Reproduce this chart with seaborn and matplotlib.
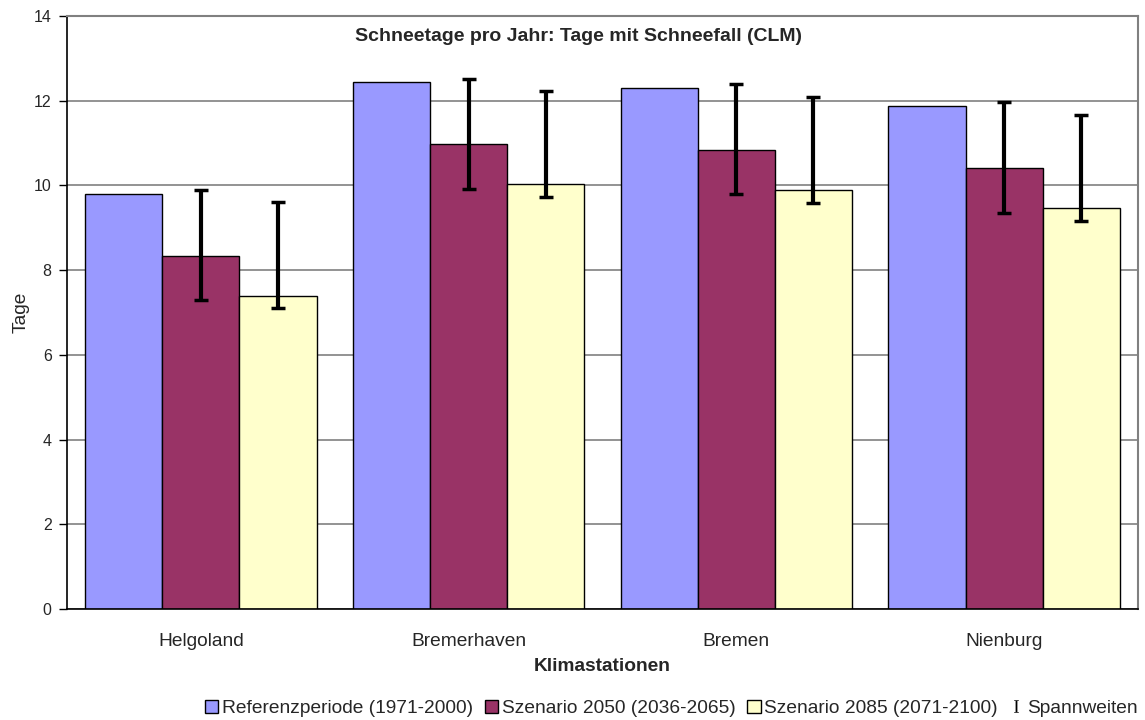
import pandas as pd
import matplotlib.pyplot as plt
import seaborn as sns
from matplotlib.patches import Patch
from matplotlib.lines import Line2D

stations = ["Helgoland", "Bremerhaven", "Bremen", "Nienburg"]
scenarios = ["Referenzperiode (1971-2000)", "Szenario 2050 (2036-2065)", "Szenario 2085 (2071-2100)"]

ref = [9.80, 12.43, 12.29, 11.87]
sz2050 = [8.33, 10.97, 10.84, 10.41]
sz2085 = [7.39, 10.03, 9.90, 9.47]

# Spannweiten (min / max) for the scenarios
sz2050_lo = [7.29, 9.92, 9.79, 9.36]
sz2050_hi = [9.89, 12.52, 12.39, 11.96]
sz2085_lo = [7.10, 9.73, 9.59, 9.17]
sz2085_hi = [9.60, 12.23, 12.09, 11.67]

colors = ["#9999FF", "#993366", "#FFFFCC"]

df = pd.DataFrame({
    "Station": stations * 3,
    "Szenario": [s for s in scenarios for _ in stations],
    "Tage": ref + sz2050 + sz2085,
})

sns.set_style("white")
plt.rcParams['font.family'] = ['Liberation Sans', 'DejaVu Sans']
plt.rcParams['mathtext.fontset'] = 'custom'
plt.rcParams['mathtext.rm'] = 'Liberation Serif'

fig = plt.figure(figsize=(11.45, 7.2), dpi=100)
ax = fig.add_axes([0.0585, 0.1542, 0.9354, 0.8236])

sns.barplot(data=df, x="Station", y="Tage", hue="Szenario", hue_order=scenarios,
            order=stations, palette=dict(zip(scenarios, colors)), saturation=1,
            width=0.864, gap=0, edgecolor="black", linewidth=1, legend=False, ax=ax, zorder=2)

# error bars on the scenario bars
for cont, vals, lo, hi in [(ax.containers[1], sz2050, sz2050_lo, sz2050_hi),
                           (ax.containers[2], sz2085, sz2085_lo, sz2085_hi)]:
    xs = [p.get_x() + p.get_width() / 2 for p in cont]
    yerr = [[v - l for v, l in zip(vals, lo)], [h - v for v, h in zip(vals, hi)]]
    ax.errorbar(xs, vals, yerr=yerr, fmt="none", ecolor="black", elinewidth=3,
                capsize=5, capthick=2.5, zorder=3)

ax.set_ylim(0, 14)
ax.set_xlim(-0.5, 3.5)
ax.set_yticks(range(0, 15, 2))
ax.yaxis.grid(True, color="#808080", linewidth=1.2)
ax.set_axisbelow(True)

ax.set_xticks([-0.5, 0.5, 1.5, 2.5, 3.5], minor=True)
ax.tick_params(axis="x", which="major", length=0, labelsize=13.8, pad=17)
ax.tick_params(axis="x", which="minor", length=5, width=1, color="black", direction="out")
ax.tick_params(axis="y", length=6, width=1, color="black", direction="out", labelsize=11.5,
               left=True, pad=5)

for s in ["left", "bottom"]:
    ax.spines[s].set_color("black")
    ax.spines[s].set_linewidth(1.2)
for s in ["top", "right"]:
    ax.spines[s].set_color("#808080")
    ax.spines[s].set_linewidth(1.5)

ax.set_ylabel("Tage", fontsize=13.8, labelpad=3)
ax.set_xlabel("Klimastationen", fontsize=13.8, fontweight="bold", labelpad=6)
ax.text(0.478, 0.966, "Schneetage pro Jahr: Tage mit Schneefall (CLM)", transform=ax.transAxes,
        ha="center", va="center", fontsize=14, fontweight="bold")

handles = [Patch(facecolor=c, edgecolor="black", linewidth=1) for c in colors]
handles.append(Line2D([], [], linestyle="none", marker=r"$\mathrm{I}$", color="black",
                      markersize=9, markeredgewidth=0))
fig.legend(handles, scenarios + ["Spannweiten"], loc="center right", bbox_to_anchor=(1.0, 0.016),
           ncol=4, frameon=False, fontsize=13.8, handlelength=0.7, handleheight=0.7,
           handletextpad=0.2, columnspacing=0.6, borderaxespad=0)

fig.savefig("out.png", dpi=100)
